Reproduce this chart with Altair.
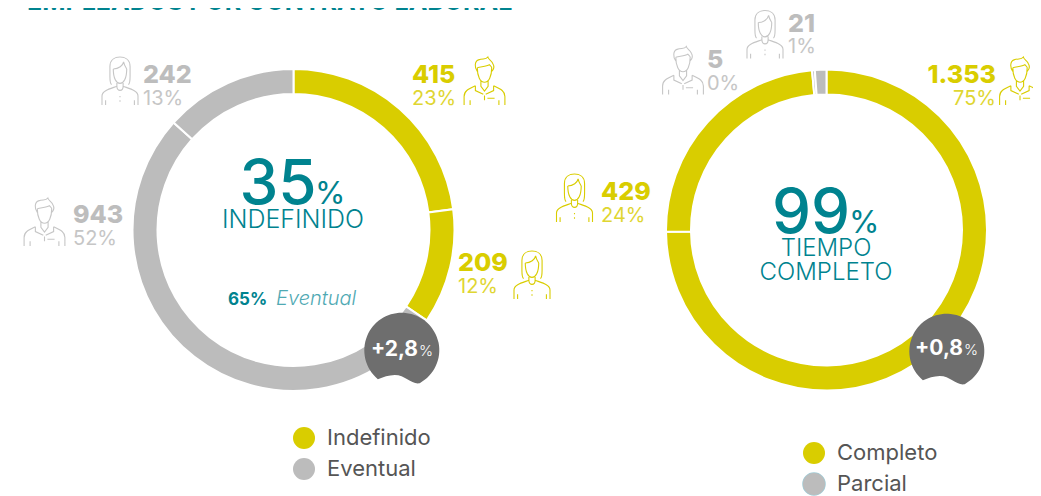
import altair as alt
import pandas as pd

# ---- values ----
left_segments = ["Hombres indefinido", "Mujeres indefinido", "Hombres eventual", "Mujeres eventual"]
left_types = ["Indefinido", "Indefinido", "Eventual", "Eventual"]
left_values = [415, 209, 943, 242]
left_domain = ["Indefinido", "Eventual"]

right_segments = ["Hombres completo", "Mujeres completo", "Hombres parcial", "Mujeres parcial"]
right_types = ["Completo", "Completo", "Parcial", "Parcial"]
right_values = [1353, 429, 5, 21]
right_domain = ["Completo", "Parcial"]

# ---- styles ----
YELLOW = "#d9cd00"
YELLOW_L = "#dfd632"
GREY = "#bcbcbc"
GREY_T = "#bdbdbd"
GREY_L = "#c6c6c6"
TEAL = "#00838f"
TEAL_L = "#4fa9b3"
DARK = "#6e6e6e"
FONT = "Inter"
OFF = 8

MAN = ("M-.3 -.55 C-.3 -.2 -.18 .05 0 .05 C.18 .05 .3 -.2 .3 -.55 "
       "M-.3 -.4 C-.42 -.55 -.42 -.82 -.25 -.88 C-.05 -.95 .05 -.88 .14 -1 C.16 -.9 .3 -.85 .35 -.72 C.42 -.6 .4 -.5 .3 -.4 "
       "M-.3 -.55 C-.1 -.6 .1 -.62 .2 -.68 C.25 -.62 .3 -.6 .3 -.55 "
       "M-.15 0 V.22 L0 .42 L.15 .22 V0 "
       "M-.85 1 V.65 C-.85 .42 -.7 .35 -.38 .2 M.85 1 V.65 C.85 .42 .7 .35 .38 .2 "
       "M-.38 .2 V.4 L-.05 .55 M.38 .2 V.4 L.05 .55 "
       "M-.6 .8 V1 M.6 .8 V1 M.12 .72 H.42 M0 .6 V.8")
WOMAN = ("M-.35 .15 C-.42 .1 -.42 0 -.42 -.2 V-.6 C-.42 -.9 -.2 -1 0 -1 C.2 -1 .42 -.9 .42 -.6 V-.2 C.42 0 .42 .1 .35 .15 "
         "M-.28 -.5 C-.28 -.1 -.15 .1 0 .1 C.15 .1 .28 -.1 .28 -.5 "
         "M-.28 -.5 C-.05 -.5 .12 -.65 .15 -.8 C.18 -.65 .25 -.55 .28 -.5 "
         "M-.13 .08 V.22 C-.13 .45 .13 .45 .13 .22 V.08 "
         "M-.75 1 V.62 C-.75 .4 -.4 .32 -.13 .22 M.75 1 V.62 C.75 .4 .4 .32 .13 .22 "
         "M-.6 .8 V1 M.6 .8 V1 M0 .62 V.68 M0 .8 V.86")
BADGE = ("M-.59 .83 A1 1 0 1 1 .525 .94 C.3 .98 .15 .72 -.14 .72 C-.3 .72 -.45 .78 -.59 .83 Z")

one = lambda **kw: alt.Data(values=[kw])


def text(s, x, y, size, color, weight=400, align="left", style="normal"):
    return alt.Chart(one(t=s)).mark_text(
        font=FONT, fontSize=size, fontWeight=weight, fontStyle=style,
        color=color, align=align, baseline="alphabetic",
    ).encode(x=alt.value(x - OFF), y=alt.value(y - OFF), text="t:N")


def icon(path, x, y, color, size=2304):
    return alt.Chart(one(a=1)).mark_point(
        shape=path, size=size, filled=False, stroke=color, strokeWidth=1.1, opacity=1,
    ).encode(x=alt.value(x - OFF), y=alt.value(y - OFF))


def badge(x, y):
    return alt.Chart(one(a=1)).mark_point(
        shape=BADGE, size=5625, filled=True, fill=DARK, strokeWidth=0, opacity=1,
    ).encode(x=alt.value(x - OFF), y=alt.value(y - OFF))


def donut(segments, types, values, domain, cx, cy, rout, rin, lx, ly):
    df = pd.DataFrame({"seg": segments, "tipo": types, "valor": values, "ord": range(len(values))})
    return alt.Chart(df).mark_arc(
        outerRadius=rout, innerRadius=rin, stroke="white", strokeWidth=2,
    ).encode(
        x=alt.value(cx - OFF), y=alt.value(cy - OFF),
        theta=alt.Theta("valor:Q", stack=True),
        order=alt.Order("ord:Q"),
        detail="seg:N",
        color=alt.Color(
            "tipo:N",
            scale=alt.Scale(domain=domain, range=[YELLOW, GREY]),
            legend=alt.Legend(
                title=None, orient="none", legendX=lx - OFF, legendY=ly - OFF,
                symbolType="circle", symbolSize=484, symbolStrokeWidth=0,
                labelFont=FONT, labelFontSize=22, labelColor="#555555", labelFontWeight=400,
                rowPadding=9, labelOffset=12, padding=0, symbolOpacity=1,
            ),
        ),
    )


NUM = 25
PCT = 20
PW = 400
layers = [
    text("EMPLEADOS POR CONTRATO LABORAL", 27, 10, 25, TEAL, 700),

    donut(left_segments, left_types, left_values, left_domain, 293.5, 230, 161, 136, 293, 427),
    text("35", 278, 204, 62, TEAL, 500, "center"),
    text("%", 315, 204, 31, TEAL),
    text("INDEFINIDO", 293, 228, 25, TEAL, 300, "center"),
    text("65%", 228, 305, 17, TEAL, 700),
    text("Eventual", 276, 305, 20, TEAL_L, 300, style="italic"),
    text(str(left_values[0]), 412, 83, NUM, YELLOW, 800),
    text("23%", 412, 105, PCT, YELLOW_L, PW),
    text(str(left_values[1]), 458, 271, NUM, YELLOW, 800),
    text("12%", 458, 293, PCT, YELLOW_L, PW),
    text(str(left_values[2]), 73, 223, NUM, GREY_T, 800),
    text("52%", 73, 245, PCT, GREY_L, PW),
    text(str(left_values[3]), 143, 83, NUM, GREY_T, 800),
    text("13%", 143, 105, PCT, GREY_L, PW),
    icon(MAN, 484.5, 81, YELLOW),
    icon(WOMAN, 532, 275, YELLOW),
    icon(MAN, 44.5, 222, GREY_L),
    icon(WOMAN, 120, 81, GREY_L),
    badge(400, 348),
    text("+2,8", 418, 356, 21, "white", 700, "right"),
    text("%", 419, 356, 15, "white", 300),

    donut(right_segments, right_types, right_values, right_domain, 826.5, 230, 160.5, 135.5, 803, 442),
    alt.Chart(one(a=1)).mark_point(
        shape="circle", size=484, filled=False, stroke="#9fcbd6", strokeWidth=1.5, opacity=1,
    ).encode(x=alt.value(814 - OFF), y=alt.value(484 - OFF)),
    text("99", 811, 233, 62, TEAL, 500, "center"),
    text("%", 849, 233, 31, TEAL),
    text("TIEMPO", 826, 256, 24, TEAL, 300, "center"),
    text("COMPLETO", 826, 280, 24, TEAL, 300, "center"),
    text("1.353", 996, 83, NUM, YELLOW, 800, "right"),
    text("75%", 996, 105, PCT, YELLOW_L, PW, "right"),
    text(str(right_values[1]), 601, 200, NUM, YELLOW, 800),
    text("24%", 601, 222, PCT, YELLOW_L, PW),
    text(str(right_values[2]), 707, 68, NUM, GREY_T, 800),
    text("0%", 707, 90, PCT, GREY_L, PW),
    text(str(right_values[3]), 788, 32, NUM, GREY_T, 800),
    text("1%", 788, 53, PCT, GREY_L, PW),
    icon(MAN, 1020, 81, YELLOW),
    icon(WOMAN, 574.5, 198, YELLOW),
    icon(MAN, 683, 70.5, GREY_L),
    icon(WOMAN, 765, 34.5, GREY_L),
    badge(945, 349),
    text("+0,8", 963, 355, 21, "white", 700, "right"),
    text("%", 964, 355, 15, "white", 300),
]

chart = alt.layer(*layers).resolve_scale(
    theta="independent", color="independent"
).properties(
    width=1025, height=488, padding=0,
    autosize=alt.AutoSizeParams(type="none"),
).configure_view(stroke=None)

chart.save("out.html", embed_options={"renderer": "svg", "actions": False})
